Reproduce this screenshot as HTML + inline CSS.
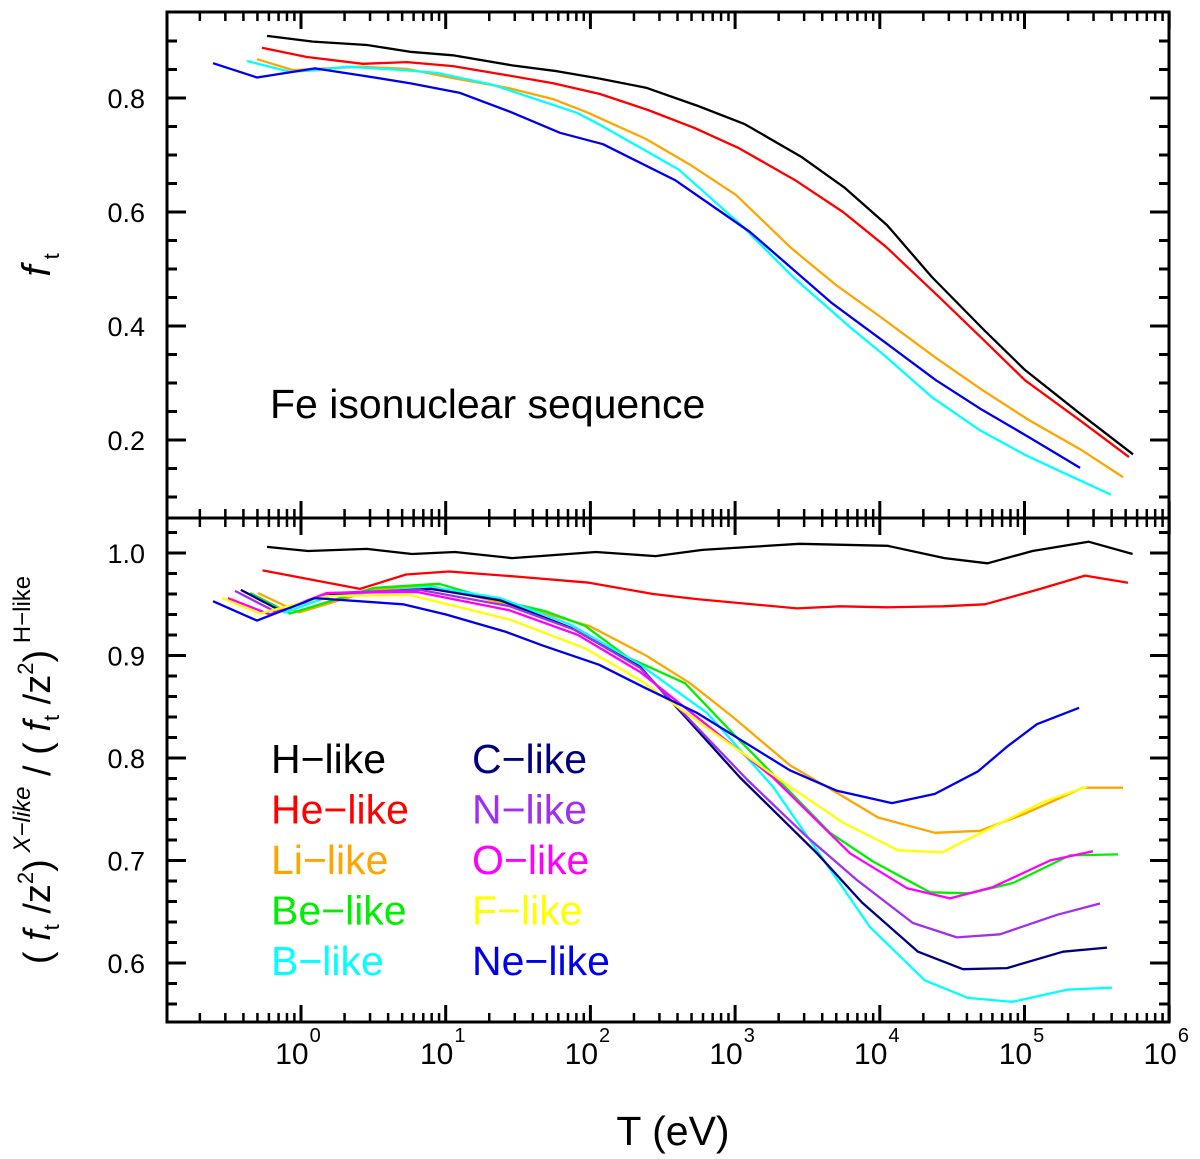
<!DOCTYPE html>
<html><head><meta charset="utf-8"><style>
html,body{margin:0;padding:0;background:#fff;}
svg{display:block;font-family:"Liberation Sans",Arial,sans-serif;}
</style></head><body>
<svg id="chart" width="1200" height="1159" viewBox="0 0 1200 1159" xmlns="http://www.w3.org/2000/svg">
<g id="ticks"></g>
<g id="lines"></g>
<g id="frames">
  <rect x="167" y="12" width="1002" height="506" fill="none" stroke="#000" stroke-width="3"/>
  <rect x="167" y="518" width="1002" height="504" fill="none" stroke="#000" stroke-width="3"/>
</g>
<g id="labels" font-size="27" fill="#000"></g>
<text x="270" y="418" font-size="41">Fe isonuclear sequence</text>
<text transform="translate(50,265) rotate(-90)" font-size="40" text-anchor="middle"><tspan font-style="italic">f</tspan><tspan font-size="22" dy="9"> t</tspan></text>
<text transform="translate(50,770) rotate(-90)" font-size="38" text-anchor="middle">( <tspan font-style="italic">f</tspan><tspan font-size="22" dy="9">t</tspan><tspan dy="-9"> /z</tspan><tspan font-size="22" dy="-17">2</tspan><tspan dy="17">)</tspan><tspan font-size="24" font-style="italic" dy="-20"> X−like</tspan><tspan dy="20"> / ( </tspan><tspan font-style="italic">f</tspan><tspan font-size="22" dy="9">t</tspan><tspan dy="-9"> /z</tspan><tspan font-size="22" dy="-17">2</tspan><tspan dy="17">)</tspan><tspan font-size="24" dy="-20"> H−like</tspan></text>
<text x="673" y="1145" font-size="41" text-anchor="middle">T (eV)</text>
<g id="legend" font-size="41"></g>
</svg>
<script>
// ---- data (log10 T [eV], value) ----
const topH_T=[-0.235,0.083,0.456,0.753,1.05,1.465,1.769,2.046,2.384,2.744,3.068,3.462,3.76,4.05,4.36,4.72,5.003,5.38,5.75];
const topH_V=[0.909,0.899,0.893,0.881,0.875,0.857,0.847,0.835,0.818,0.786,0.754,0.696,0.642,0.577,0.486,0.393,0.323,0.247,0.175];
const topHe_T=[-0.27,0.041,0.428,0.733,1.05,1.424,1.742,2.066,2.398,2.723,3.027,3.414,3.746,4.043,4.409,4.72,5.003,5.397,5.722];
const topHe_V=[0.888,0.872,0.860,0.863,0.856,0.840,0.826,0.807,0.779,0.747,0.712,0.656,0.600,0.539,0.451,0.375,0.305,0.232,0.170];
const topLi_T=[-0.304,-0.055,0.408,0.733,1.05,1.424,1.742,1.976,2.384,2.695,3.006,3.386,3.697,4.015,4.388,4.706,5.031,5.397,5.681];
const topLi_V=[0.868,0.849,0.855,0.851,0.835,0.818,0.798,0.775,0.728,0.682,0.630,0.537,0.472,0.414,0.344,0.288,0.235,0.182,0.135];
const topB_T=[-0.373,-0.076,0.111,0.318,0.705,0.94,1.327,1.907,2.066,2.612,3.055,3.40,3.794,4.043,4.361,4.686,5.003,5.273,5.598];
const topB_V=[0.865,0.846,0.849,0.855,0.849,0.844,0.823,0.774,0.753,0.674,0.574,0.486,0.398,0.346,0.275,0.218,0.174,0.142,0.104];
const topNe_T=[-0.608,-0.304,0.097,0.408,0.753,1.099,1.444,1.79,2.087,2.585,3.103,3.67,4.043,4.388,4.706,5.031,5.384];
const topNe_V=[0.861,0.836,0.852,0.840,0.826,0.809,0.776,0.739,0.719,0.656,0.565,0.440,0.370,0.305,0.253,0.205,0.151];

const botH_T=[-0.235,0.048,0.456,0.767,1.064,1.458,2.038,2.45,2.774,3.445,4.053,4.447,4.744,5.055,5.442,5.747];
const botH_V=[1.006,1.002,1.004,0.999,1.001,0.995,1.001,0.997,1.003,1.009,1.007,0.995,0.990,1.002,1.011,0.999];
const botHe_T=[-0.266,0.408,0.726,1.023,1.493,1.991,2.433,2.737,3.428,3.725,4.05,4.437,4.727,5.086,5.418,5.715];
const botHe_V=[0.983,0.965,0.979,0.982,0.977,0.971,0.960,0.955,0.946,0.948,0.947,0.948,0.950,0.964,0.978,0.971];
const botLi_T=[-0.297,-0.014,0.504,0.891,1.666,1.99,2.384,2.688,2.985,3.379,3.704,3.988,4.381,4.692,4.99,5.404,5.681];
const botLi_V=[0.961,0.942,0.964,0.968,0.942,0.929,0.900,0.873,0.840,0.793,0.766,0.742,0.727,0.729,0.745,0.771,0.771];
const botBe_T=[-0.352,-0.076,0.504,0.954,1.244,1.693,1.963,2.26,2.654,2.985,3.656,3.953,4.347,4.623,4.92,5.314,5.646];
const botBe_V=[0.961,0.941,0.966,0.970,0.958,0.943,0.929,0.898,0.873,0.824,0.727,0.699,0.669,0.668,0.678,0.705,0.706];
const botB_T=[-0.387,-0.111,0.2,0.891,1.375,1.866,2.343,2.806,3.262,3.932,4.312,4.61,4.914,5.294,5.605];
const botB_V=[0.962,0.942,0.958,0.967,0.956,0.930,0.891,0.844,0.772,0.635,0.583,0.566,0.562,0.574,0.576];
const botC_T=[-0.415,-0.145,0.2,0.898,1.375,1.866,2.343,3.034,3.566,3.877,4.264,4.575,4.879,5.266,5.57];
const botC_V=[0.964,0.944,0.960,0.965,0.954,0.927,0.889,0.781,0.707,0.659,0.611,0.594,0.595,0.611,0.615];
const botN_T=[-0.456,-0.166,0.2,0.822,1.444,1.894,2.343,3.082,3.497,3.842,4.229,4.533,4.831,5.225,5.522];
const botN_V=[0.963,0.942,0.961,0.964,0.948,0.925,0.888,0.779,0.723,0.681,0.639,0.625,0.628,0.647,0.658];
const botO_T=[-0.505,-0.214,0.18,0.802,1.444,1.914,2.343,3.262,3.794,4.188,4.485,4.782,5.176,5.473];
const botO_V=[0.956,0.940,0.961,0.962,0.944,0.920,0.884,0.781,0.707,0.673,0.663,0.674,0.700,0.709];
const botF_T=[-0.546,-0.283,0.18,0.753,1.444,1.963,2.343,3.379,3.746,4.126,4.43,4.741,5.128,5.432];
const botF_V=[0.956,0.941,0.958,0.959,0.935,0.907,0.876,0.772,0.737,0.710,0.708,0.730,0.757,0.772];
const botNe_T=[-0.608,-0.304,0.097,0.705,1.002,1.417,1.666,2.059,2.384,2.737,3.379,3.704,4.084,4.381,4.679,4.879,5.086,5.377];
const botNe_V=[0.953,0.934,0.956,0.950,0.940,0.923,0.910,0.891,0.868,0.844,0.788,0.768,0.756,0.765,0.787,0.811,0.833,0.849];

const topTickLabels=["0.2","0.4","0.6","0.8"];
const botTickLabels=["0.6","0.7","0.8","0.9","1.0"];
const xDecades=[0,1,2,3,4,5,6];
const legendNames=["H−like","He−like","Li−like","Be−like","B−like","C−like","N−like","O−like","F−like","Ne−like"];

// ---- axes ----
const X0=167,X1=1169,TY0=12,TY1=518,BY0=518,BY1=1022;
const xs=L=>301+144.7*L;
const yT=v=>98+(0.8-v)*570;
const yB=v=>553+(1-v)*1025;
const NS="http://www.w3.org/2000/svg";
function mk(tag,attrs,parent){const e=document.createElementNS(NS,tag);for(const k in attrs)e.setAttribute(k,attrs[k]);parent.appendChild(e);return e;}

const ticks=document.getElementById('ticks');
function line(x1,y1,x2,y2,w,name){const l=mk('line',{x1,y1,x2,y2,stroke:'#000','stroke-width':w},ticks);

}
for(let d=-1;d<=6;d++){for(let k=1;k<=9;k++){const x=xs(d+Math.log10(k));if(x<X0+1||x>X1+0.5)continue;const len=k===1?17:9;const w=k===1?3:2.5;
[[TY0,1],[TY1,-1],[BY0,1],[BY1,-1]].forEach(([y,s])=>line(x,y,x,y+s*len,w,'x-tick'));}}
for(let i=2;i<=19;i++){const v=i*0.05;const y=yT(v);if(y<TY0+2||y>TY1-2)continue;const major=(i%4===0);const len=major?19:10;
line(X0,y,X0+len,y,3,'y-tick-top');line(X1,y,X1-len,y,3,'y-tick-top');}
for(let i=28;i<=51;i++){const v=i*0.02;const y=yB(v);if(y<BY0+2||y>BY1-2)continue;const major=(i%5===0);const len=major?19:10;
line(X0,y,X0+len,y,3,'y-tick-bottom');line(X1,y,X1-len,y,3,'y-tick-bottom');}

const labels=document.getElementById('labels');
topTickLabels.forEach(s=>{const t=mk('text',{x:145,y:yT(parseFloat(s))+10,'text-anchor':'end'},labels);t.textContent=s;

});
botTickLabels.forEach(s=>{const t=mk('text',{x:145,y:yB(parseFloat(s))+10,'text-anchor':'end'},labels);t.textContent=s;

});
xDecades.forEach(d=>{const x=xs(d);const t=mk('text',{x:x-3,y:1064,'text-anchor':'middle','font-size':30},labels);t.textContent='10';
const s=mk('tspan',{dy:-22,'font-size':20,dx:1},t);s.textContent=String(d);

});

// ---- series ----
const lines=document.getElementById('lines');
function series(T,V,yf,color,name){const pts=T.map((L,i)=>xs(L).toFixed(1)+','+yf(V[i]).toFixed(1)).join(' ');
const p=mk('polyline',{points:pts,fill:'none',stroke:color,'stroke-width':2.3,'stroke-linejoin':'round'},lines);

}
const cH='#000',cHe='#ff0000',cLi='#ffa500',cBe='#00ee00',cB='#00ffff',cC='#00007f',cN='#a030f0',cO='#ff00ff',cF='#ffff00',cNe='#0000ee';
series(topH_T,topH_V,yT,cH,'top-h-like-line');
series(topHe_T,topHe_V,yT,cHe,'top-he-like-line');
series(topLi_T,topLi_V,yT,cLi,'top-li-like-line');
series(topB_T,topB_V,yT,cB,'top-b-like-line');
series(topNe_T,topNe_V,yT,cNe,'top-ne-like-line');
series(botH_T,botH_V,yB,cH,'bottom-h-like-line');
series(botHe_T,botHe_V,yB,cHe,'bottom-he-like-line');
series(botLi_T,botLi_V,yB,cLi,'bottom-li-like-line');
series(botBe_T,botBe_V,yB,cBe,'bottom-be-like-line');
series(botB_T,botB_V,yB,cB,'bottom-b-like-line');
series(botC_T,botC_V,yB,cC,'bottom-c-like-line');
series(botN_T,botN_V,yB,cN,'bottom-n-like-line');
series(botO_T,botO_V,yB,cO,'bottom-o-like-line');
series(botF_T,botF_V,yB,cF,'bottom-f-like-line');
series(botNe_T,botNe_V,yB,cNe,'bottom-ne-like-line');

// ---- legend ----
const legend=document.getElementById('legend');
const legColors=[cH,cHe,cLi,cBe,cB,cC,cN,cO,cF,cNe];
legendNames.forEach((n,i)=>{const col=i<5?0:1;const row=i%5;
const t=mk('text',{x:col?472:271,y:773+row*50.5,fill:legColors[i]},legend);t.textContent=n;

});
</script>
</body></html>
